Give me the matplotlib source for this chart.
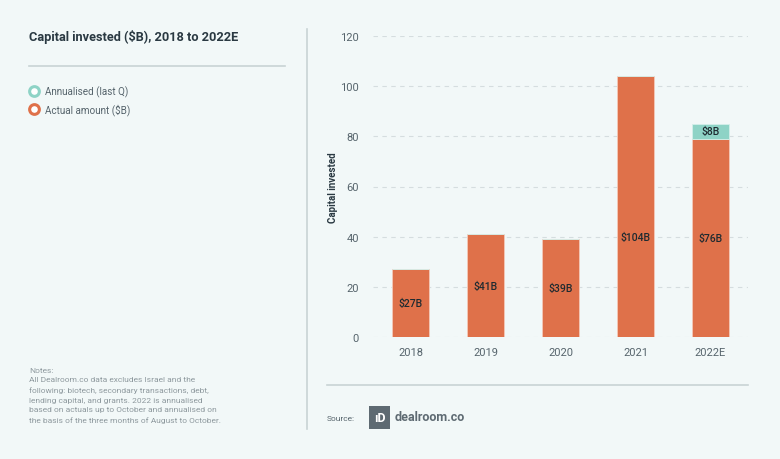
import matplotlib.pyplot as plt
from matplotlib.patches import Rectangle
from matplotlib.lines import Line2D

YEARS = ["2018", "2019", "2020", "2021", "2022E"]
ACTUAL = [27, 41, 39, 104, 79]
ANNUALISED = [0, 0, 0, 0, 6]
ACTUAL_LABELS = ["$27B", "$41B", "$39B", "$104B", "$76B"]
ANNUALISED_LABELS = ["", "", "", "", "$8B"]
Y_TICKS = [0, 20, 40, 60, 80, 100, 120]

TITLE = "Capital invested ($B), 2018 to 2022E"
NOTES = ("Notes:\n"
         "All Dealroom.co data excludes Israel and the\n"
         "following: biotech, secondary transactions, debt,\n"
         "lending capital, and grants. 2022 is annualised\n"
         "based on actuals up to October and annualised on\n"
         "the basis of the three months of August to October.")

BG = "#F2F8F8"
ORANGE = "#DF714A"
TEAL = "#8ED3C6"
DARK = "#2A3942"
GREY = "#56646C"
LIGHT = "#8E999E"
RULE = "#C9D3D5"

plt.rcParams["font.family"] = ["Roboto", "DejaVu Sans"]

fig = plt.figure(figsize=(7.8, 4.6), dpi=100, facecolor=BG)
W, H = 780, 460


def fx(px):
    return px / W


def fy(py):
    return 1 - py / H


# left panel
fig.text(fx(29), fy(37), TITLE, fontsize=9.2, fontweight="bold", color=DARK, va="center")
fig.add_artist(Line2D([fx(29), fx(285)], [fy(67), fy(67)], color=RULE, lw=1.2))
for py, col, lab in [(92, TEAL, "Annualised (last Q)"), (110, ORANGE, "Actual amount ($B)")]:
    fig.add_artist(Line2D([fx(34)], [fy(py)], marker="o", markersize=7, markerfacecolor="white",
                          markeredgecolor=col, markeredgewidth=2.2, lw=0))
    fig.text(fx(45), fy(py), lab, fontsize=7.1, color=GREY, va="center")
fig.text(fx(29), fy(368), NOTES, fontsize=6, color=LIGHT, va="top", linespacing=1.7)

# separators
fig.add_artist(Line2D([fx(307), fx(307)], [fy(30), fy(430)], color=RULE, lw=1.2))
fig.add_artist(Line2D([fx(327), fx(748)], [fy(386), fy(386)], color=RULE, lw=1.2))

# source
fig.text(fx(327), fy(419), "Source:", fontsize=6, color=GREY, va="center")
fig.add_artist(Rectangle((fx(369), fy(430)), fx(21), 23 / H, color="#5E6A72", lw=0))
fig.text(fx(379.5), fy(419), "ıD", fontsize=9, fontweight="bold", color="white",
         ha="center", va="center")
fig.text(fx(395), fy(418), "dealroom.co", fontsize=9, fontweight="bold", color="#5E6A72",
         va="center")

# chart
ax = fig.add_axes([fx(373), fy(338), fx(748 - 373), (338 - 37) / H])
ax.set_facecolor(BG)
x = range(len(YEARS))
ax.bar(x, ACTUAL, width=0.5, color=ORANGE, edgecolor="#F5C9B8", linewidth=0.6, zorder=3)
ax.bar(x, ANNUALISED, width=0.5, bottom=ACTUAL, color=TEAL, edgecolor="#D4EFEA",
       linewidth=0.6, zorder=3)

for i, (v, lab) in enumerate(zip(ACTUAL, ACTUAL_LABELS)):
    ax.text(i, min(v / 2, 40), lab, ha="center", va="center", fontsize=7.5,
            fontweight="medium", color="#1E2A30", zorder=4)
for i, (v, a, lab) in enumerate(zip(ACTUAL, ANNUALISED, ANNUALISED_LABELS)):
    if a:
        ax.text(i, v + a / 2, lab, ha="center", va="center", fontsize=7.5,
                fontweight="medium", color="#1E2A30", zorder=4)

ax.set_xlim(-0.5, 4.5)
ax.set_ylim(0, 120)
ax.set_yticks(Y_TICKS)
ax.set_xticks(list(x))
ax.set_xticklabels(YEARS)
ax.tick_params(length=0, labelsize=8, labelcolor=GREY)
ax.tick_params(axis="y", pad=10)
ax.tick_params(axis="x", pad=7)
ax.yaxis.grid(True, linestyle=(0, (4, 4)), color="#D5DDDF", linewidth=0.8, zorder=0)
for s in ax.spines.values():
    s.set_visible(False)
ax.set_ylabel("Capital invested", fontsize=7, fontweight="bold", color=DARK)
ax.yaxis.set_label_coords(-0.093, 0.5)

fig.savefig("out.png", dpi=100, facecolor=BG)
